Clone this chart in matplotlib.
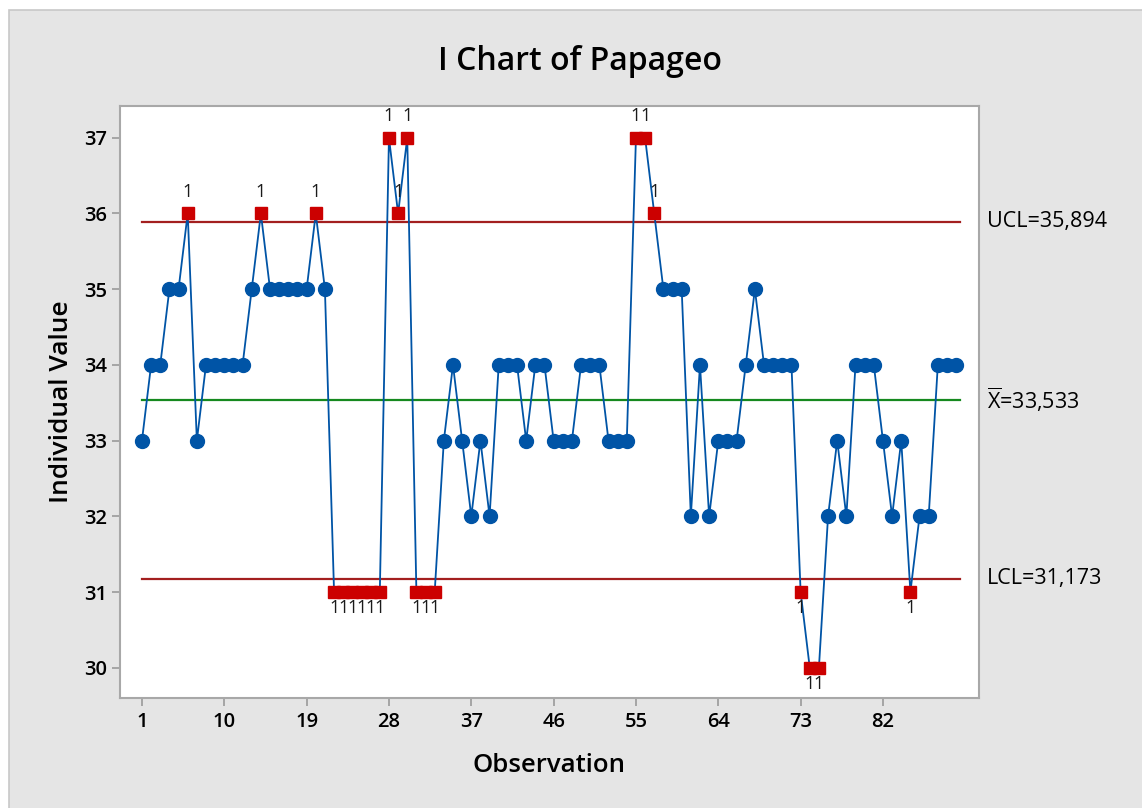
import matplotlib
matplotlib.use("Agg")
import matplotlib.pyplot as plt
from matplotlib.patches import Rectangle
import numpy as np

values = [33, 34, 34, 35, 35, 36, 33, 34, 34, 34,
          34, 34, 35, 36, 35, 35, 35, 35, 35, 36,
          35, 31, 31, 31, 31, 31, 31, 37, 36, 37,
          31, 31, 31, 33, 34, 33, 32, 33, 32, 34,
          34, 34, 33, 34, 34, 33, 33, 33, 34, 34,
          34, 33, 33, 33, 37, 37, 36, 35, 35, 35,
          32, 34, 32, 33, 33, 33, 34, 35, 34, 34,
          34, 34, 31, 30, 30, 32, 33, 32, 34, 34,
          34, 33, 32, 33, 31, 32, 32, 34, 34, 34]
ucl = 35.894
center = 33.533
lcl = 31.173
x_ticks = [1, 10, 19, 28, 37, 46, 55, 64, 73, 82]
y_ticks = [30, 31, 32, 33, 34, 35, 36, 37]
title = "I Chart of Papageo"

FONT = "Open Sans"
plt.rcParams["font.family"] = [FONT, "DejaVu Sans"]
plt.rcParams["mathtext.fontset"] = "custom"
plt.rcParams["mathtext.rm"] = FONT
plt.rcParams["mathtext.it"] = FONT

obs = np.arange(1, len(values) + 1)
vals = np.array(values, dtype=float)

fig = plt.figure(figsize=(11.42, 8.08), dpi=100, facecolor="white")
bg = Rectangle((9 / 1142, -0.01), 1.0, 1 - 10 / 808 + 0.01,
               transform=fig.transFigure, facecolor="#e5e5e5",
               edgecolor="#c8c8c8", linewidth=1.2, zorder=-10)
fig.add_artist(bg)

ax = fig.add_axes([120 / 1142, 1 - 698 / 808, (979 - 120) / 1142, (698 - 106) / 808])
ax.set_zorder(1)
ax.set_facecolor("white")

blue = "#0054a6"
red = "#cc0000"

ax.plot([1, 90.4], [ucl, ucl], color="#a31f1f", lw=1.6, zorder=2)
ax.plot([1, 90.4], [lcl, lcl], color="#a31f1f", lw=1.6, zorder=2)
ax.plot([1, 90.4], [center, center], color="#16891f", lw=1.6, zorder=2)

ax.plot(obs, vals, color=blue, lw=1.3, zorder=3)
ok = (vals <= ucl) & (vals >= lcl)
ax.plot(obs[ok], vals[ok], "o", color=blue, ms=10, mec=blue, zorder=4)
ax.plot(obs[~ok], vals[~ok], "s", color=red, ms=9.3, mec=red, zorder=5)

for xo, v in zip(obs[~ok], vals[~ok]):
    if v > ucl:
        ax.annotate("1", (xo, v), xytext=(0, 9), textcoords="offset points",
                    ha="center", va="bottom", fontsize=13, color="#1a1a1a", zorder=6)
    else:
        ax.annotate("1", (xo, v), xytext=(0, -5), textcoords="offset points",
                    ha="center", va="top", fontsize=13, color="#1a1a1a", zorder=6)

ax.set_xlim(-1.4, 92.5)
ax.set_ylim(29.6, 37.42)
ax.set_xticks(x_ticks)
ax.set_yticks(y_ticks)
for s in ax.spines.values():
    s.set_color("#a8a8a8")
    s.set_linewidth(1.5)
ax.tick_params(axis="both", colors="#a0a0a0", length=6, width=1.3, labelcolor="black",
               labelsize=14.5)
ax.tick_params(axis="x", pad=4)
for lab in ax.get_xticklabels() + ax.get_yticklabels():
    lab.set_fontweight("semibold")

ax.set_xlabel("Observation", fontsize=18.5, fontweight="semibold", labelpad=15)
ax.set_ylabel("Individual Value", fontsize=19, fontweight="semibold", labelpad=7)
fig.text(0.5075, 1 - 62 / 808, title, ha="center", va="center", fontsize=23,
         fontweight="semibold")

tr = ax.get_yaxis_transform()
xl = (987 - 120) / (979 - 120)
fmt = lambda v: f"{v:.3f}".replace(".", ",")
ax.text(xl, ucl, f"UCL={fmt(ucl)}", transform=tr, ha="left", va="center", fontsize=15.5)
ax.text(xl, center, r"$\overline{\mathrm{X}}$" + f"={fmt(center)}", transform=tr,
        ha="left", va="center", fontsize=15.5)
ax.text(xl, lcl, f"LCL={fmt(lcl)}", transform=tr, ha="left", va="center", fontsize=15.5)

fig.savefig("out.png", dpi=100, facecolor=fig.get_facecolor())
